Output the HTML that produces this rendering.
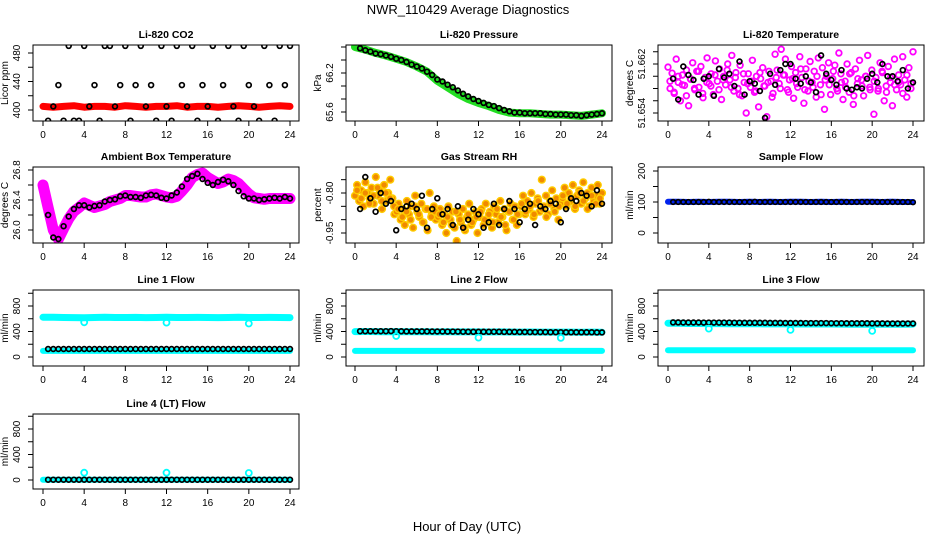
<!DOCTYPE html>
<html><head><meta charset="utf-8"><style>
html,body{margin:0;padding:0;background:#fff;width:936px;height:540px;overflow:hidden}
svg{display:block;font-family:"Liberation Sans",sans-serif}
</style></head><body>
<svg id="chart" width="936" height="540" viewBox="0 0 936 540" xmlns="http://www.w3.org/2000/svg">
<text x="468" y="14" text-anchor="middle" font-size="13">NWR_110429  Average Diagnostics</text>
<text x="467" y="531" text-anchor="middle" font-size="13">Hour of Day (UTC)</text>
</svg>
<script>
// ---- data ----
const xTicks = [0,4,8,12,16,20,24];
const co2Band = [405,404,405,406,404,405,405,404,406,405,404,405,405,406,404,405,405,404,405,406,405,404,405,406,405];
const co2Black = [385,405,435,385,490,385,385,490,405,435,385,490,490,405,435,490,385,435,490,405,435,385,490,405,385,490,435,405,490,385,435,405,490,385,435,490,405,385,490,435,405,385,490,435,385,490,435,490];
const pressBand = [66.60,66.56,66.51,66.47,66.42,66.37,66.30,66.22,66.08,65.98,65.88,65.80,65.74,65.69,65.63,65.59,65.58,65.58,65.57,65.56,65.56,65.55,65.54,65.56,65.58];
const pressBlack = [66.58,66.55,66.53,66.50,66.49,66.47,66.45,66.42,66.40,66.37,66.33,66.30,66.27,66.22,66.17,66.10,66.07,66.02,65.98,65.93,65.88,65.84,65.80,65.77,65.74,65.71,65.69,65.66,65.63,65.61,65.59,65.59,65.58,65.58,65.58,65.58,65.57,65.57,65.56,65.56,65.56,65.55,65.55,65.54,65.55,65.56,65.57,65.58];
const tempCloudMilli = [9.5,6.0,8.5,5.2,10.8,7.0,4.0,8.2,6.5,9.0,3.2,7.5,10.2,5.8,8.8,6.2,9.6,4.5,7.8,11.0,6.8,8.4,5.0,10.5,7.2,9.2,4.2,8.0,6.6,10.0,7.4,11.4,5.6,8.6,6.0,9.8,4.8,7.0,2.0,8.4,6.2,10.6,5.4,8.0,3.0,7.6,9.4,6.4,1.4,8.8,7.2,5.2,11.6,9.0,6.8,12.4,8.2,10.8,5.8,7.4,9.6,4.4,8.6,6.2,11.2,7.8,3.6,9.2,5.6,10.4,7.0,8.8,4.6,11.0,6.6,9.4,2.6,8.0,10.2,5.0,7.6,9.8,6.0,11.8,8.4,4.2,7.2,10.0,5.4,8.6,3.4,9.2,6.8,10.6,7.4,4.8,8.0,11.4,6.2,9.0,1.8,7.8,5.6,10.2,8.8,4.0,6.4,9.6,7.0,3.2,10.8,5.8,8.2,6.6,11.2,7.4,4.6,9.4,6.0,12.0];
const tempCloud2Milli = [7.2,5.4,8.0,6.6,4.8,7.6,6.0,8.8,5.2,7.0,6.4,8.2,5.8,7.4,9.0,6.2,7.8,5.0,8.4,6.8,7.2,5.6,8.6,6.4,7.0,4.6,7.8,6.0,8.2,5.4,7.6,6.8,9.2,5.8,7.2,6.2,8.0,5.0,7.4,6.6,8.8,5.6,7.0,6.2,8.4,4.8,7.6,6.4,8.0,5.8,7.2,6.0,8.6,5.4,7.8,6.6,7.0,5.2,8.2,6.8];
const tempBlackMilli = [7.6,4.2,9.6,8.2,7.4,5.0,7.6,8.0,4.8,9.2,7.8,8.4,6.4,10.4,5.0,7.2,6.8,5.6,1.2,8.4,6.6,9.0,10.0,10.0,7.6,6.8,8.0,7.0,5.4,11.4,8.4,7.4,6.6,9.0,6.0,5.8,6.2,6.0,7.6,8.4,7.0,10.0,8.0,8.0,7.2,9.0,6.0,7.0];
const ambBand = [26.60,26.30,26.00,25.88,26.02,26.15,26.25,26.30,26.36,26.33,26.30,26.32,26.34,26.38,26.40,26.42,26.46,26.46,26.45,26.44,26.44,26.47,26.48,26.46,26.44,26.43,26.45,26.52,26.60,26.70,26.74,26.76,26.70,26.66,26.62,26.64,26.68,26.66,26.62,26.55,26.48,26.43,26.42,26.41,26.42,26.42,26.42,26.42,26.42];
const ambBlack = [26.20,25.90,25.88,26.05,26.18,26.28,26.33,26.33,26.30,26.32,26.33,26.38,26.40,26.41,26.45,26.46,26.44,26.44,26.43,26.46,26.47,26.46,26.43,26.42,26.46,26.50,26.58,26.68,26.72,26.75,26.68,26.63,26.60,26.64,26.67,26.65,26.60,26.52,26.45,26.42,26.42,26.40,26.41,26.42,26.43,26.42,26.44,26.42];
const rhCloud = [-0.81,-0.77,-0.83,-0.79,-0.85,-0.76,-0.80,-0.82,-0.78,-0.84,-0.74,-0.81,-0.79,-0.86,-0.77,-0.83,-0.80,-0.75,-0.82,-0.88,
-0.87,-0.84,-0.90,-0.86,-0.92,-0.83,-0.88,-0.85,-0.93,-0.81,-0.87,-0.89,-0.84,-0.91,-0.86,-0.94,-0.80,-0.88,-0.85,-0.90,
-0.89,-0.86,-0.92,-0.88,-0.95,-0.85,-0.90,-0.87,-0.93,-0.98,-0.88,-0.91,-0.86,-0.94,-0.89,-0.84,-0.92,-0.90,-0.87,-0.95,
-0.89,-0.86,-0.92,-0.84,-0.90,-0.87,-0.93,-0.85,-0.88,-0.91,-0.83,-0.89,-0.86,-0.94,-0.87,-0.84,-0.90,-0.85,-0.92,-0.88,
-0.85,-0.81,-0.88,-0.83,-0.86,-0.80,-0.89,-0.84,-0.82,-0.87,-0.75,-0.85,-0.81,-0.88,-0.83,-0.79,-0.86,-0.82,-0.90,-0.84,
-0.82,-0.78,-0.85,-0.80,-0.83,-0.77,-0.86,-0.81,-0.79,-0.84,-0.76,-0.82,-0.80,-0.85,-0.78,-0.83,-0.81,-0.77,-0.84,-0.80];
const rhCloud2 = [-0.79,-0.82,-0.80,-0.84,-0.81,-0.78,-0.83,-0.80,-0.82,-0.85,-0.86,-0.89,-0.87,-0.90,-0.85,-0.88,-0.91,-0.86,-0.89,-0.87,-0.88,-0.91,-0.89,-0.92,-0.87,-0.90,-0.93,-0.88,-0.91,-0.89,-0.87,-0.90,-0.88,-0.91,-0.86,-0.89,-0.92,-0.87,-0.90,-0.88,-0.84,-0.87,-0.85,-0.88,-0.83,-0.86,-0.89,-0.84,-0.87,-0.85,-0.81,-0.84,-0.82,-0.85,-0.80,-0.83,-0.86,-0.81,-0.84,-0.82];
const rhBlack = [-0.86,-0.74,-0.82,-0.87,-0.80,-0.84,-0.83,-0.94,-0.86,-0.85,-0.84,-0.86,-0.81,-0.93,-0.86,-0.82,-0.88,-0.86,-0.92,-0.85,-0.93,-0.90,-0.86,-0.88,-0.93,-0.91,-0.84,-0.92,-0.86,-0.83,-0.86,-0.91,-0.86,-0.84,-0.92,-0.85,-0.86,-0.83,-0.84,-0.91,-0.86,-0.82,-0.83,-0.80,-0.81,-0.85,-0.79,-0.84];
const sampleBand = [101,101,100,101,100,101,101,100,101,100,101,100,101,101,100,101,100,101,100,101,101,100,101,100,100];
const sampleBlack = [100,100,100,100,100,100,100,101,100,100,100,100,100,100,100,100,101,100,100,100,100,100,100,100,100,100,100,100,100,100,100,100,100,100,100,100,100,100,100,100,100,100,100,100,100,100,100,99];
const line1High = [625,622,620,618,615,620,622,619,620,621,618,620,622,620,619,621,620,618,620,622,619,620,621,620,618];
const line1Low = [95,96,95,95,96,95,95,96,95,95,96,95,95,96,95,95,96,95,95,96,95,95,96,95,95];
const line1Black = [125,126,125,125,126,125,125,125,126,125,125,125,126,125,125,125,126,125,125,125,126,125,125,125,126,125,125,125,126,125,125,125,126,125,125,125,126,125,125,125,126,125,125,125,126,125,125,125];
const line1Out = [545,540,525];
const line2High = [398,400,398,396,398,396,395,396,394,395,394,393,394,392,393,392,391,392,391,390,391,390,389,390,389];
const line2Low = [95,95,95,95,95,95,95,95,95,95,95,95,95,95,95,95,95,95,95,95,95,95,95,95,95];
const line2Black = [405,405,405,405,405,405,406,405,403,402,402,402,401,401,400,400,400,399,398,398,397,396,396,395,395,396,397,396,394,393,393,392,392,391,391,390,390,389,389,389,388,388,388,387,387,387,386,386];
const line2Out = [330,305,300];
const line3High = [530,528,526,525,524,524,523,522,522,521,520,520,519,518,518,517,517,516,515,515,515,514,514,515,516];
const line3Low = [105,105,105,105,105,105,105,105,105,105,105,105,105,105,105,105,105,105,105,105,105,105,105,105,105];
const line3Black = [542,542,541,541,541,541,540,540,540,539,539,539,538,538,537,537,537,536,536,535,535,535,534,534,533,533,532,532,532,531,531,530,530,530,529,529,528,528,528,527,527,527,526,526,526,526,525,525];
const line3Out = [445,425,410];
const line4Band = [3,3,3,3,3,3,3,3,3,3,3,3,3,3,3,3,3,3,3,3,3,3,3,3,3];
const line4Black = [5,5,5,5,5,5,5,5,5,5,5,5,5,5,5,5,5,5,5,5,5,5,5,5,5,5,5,5,5,5,5,5,5,5,5,5,5,5,5,5,5,5,5,5,5,5,5,5];
const line4Out = [115,115,110];
const outTimes = [4,12,20];

// ---- layout ----
const NS = "http://www.w3.org/2000/svg";
const svg = document.getElementById('chart');
const cols = [{x0:33,x1:299,a:43,b:290},{x0:346,x1:612,a:355,b:602},{x0:658,x1:924,a:668,b:913}];
const rows = [{y0:45,y1:121},{y0:167,y1:243},{y0:290,y1:366},{y0:414,y1:489}];
function mk(tag, attrs, parent){const e=document.createElementNS(NS,tag);for(const k in attrs)e.setAttribute(k,attrs[k]);(parent||svg).appendChild(e);return e;}
function hourly(n){const t=[];for(let i=0;i<n;i++)t.push(24*i/(n-1));return t;}
function offsetTimes(n){const t=[];for(let i=0;i<n;i++)t.push(24*(i+0.5)/n);return t;}
function halfHours(n){const t=[];for(let i=0;i<n;i++)t.push(0.5*(i+1));return t;}

function panel(p){
  const c=cols[p.col], r=rows[p.row];
  const g=mk('g',{});
  
  
  const X=v=>c.a+(v/24)*(c.b-c.a);
  const Y=v=>p.ya+(v-p.yv0)/(p.yv1-p.yv0)*(p.yb-p.ya);
  const clip='clip-'+p.name;
  const cp=mk('clipPath',{id:clip},g); mk('rect',{x:c.x0,y:r.y0,width:c.x1-c.x0,height:r.y1-r.y0},cp);
  const t=mk('text',{x:(c.x0+c.x1)/2,y:r.y0-7,'text-anchor':'middle','font-size':10.5,'font-weight':'bold'},g);
  t.textContent=p.title;
  
  
  const plot=mk('g',{'clip-path':'url(#'+clip+')'},g);
  p.draw(plot,X,Y);
  mk('rect',{x:c.x0,y:r.y0,width:c.x1-c.x0,height:r.y1-r.y0,fill:'none',stroke:'#000','stroke-width':1},g);
  mk('line',{x1:X(0),x2:X(24),y1:r.y1,y2:r.y1,stroke:'#000'},g);
  xTicks.forEach(v=>{
    mk('line',{x1:X(v),x2:X(v),y1:r.y1,y2:r.y1+5,stroke:'#000'},g);
    const l=mk('text',{x:X(v),y:r.y1+17,'text-anchor':'middle','font-size':10},g); l.textContent=v;
    
    
  });
  p.yticks.forEach(v=>{mk('line',{x1:c.x0-5,x2:c.x0,y1:Y(v),y2:Y(v),stroke:'#000'},g);});
  p.ylabels.forEach((v,i)=>{
    const yy=Y(v);
    const l=mk('text',{x:c.x0-13,y:yy,'text-anchor':'middle','font-size':10,transform:'rotate(-90 '+(c.x0-13)+' '+yy+')'},g);
    l.textContent=p.ylabelText?p.ylabelText[i]:v;
    
    
  });
  const cy=(r.y0+r.y1)/2;
  const yl=mk('text',{x:c.x0-25,y:cy,'text-anchor':'middle','font-size':10,transform:'rotate(-90 '+(c.x0-25)+' '+cy+')'},g);
  yl.textContent=p.ylab;
  
  
}
function band(g,X,Y,vals,color,w,name){
  const ts=hourly(vals.length);
  const pts=vals.map((v,i)=>X(ts[i]).toFixed(1)+','+Y(v).toFixed(1)).join(' ');
  const pl=mk('polyline',{points:pts,fill:'none',stroke:color,'stroke-width':w,'stroke-linejoin':'round','stroke-linecap':'round'},g);
  
  
}
function circles(g,X,Y,ts,vals,color,r,fill,sw,name){
  vals.forEach((v,i)=>{
    const c=mk('circle',{cx:X(ts[i]).toFixed(1),cy:Y(v).toFixed(1),r:r,fill:fill||'none',stroke:color,'stroke-width':sw||1.6},g);
    
    
  });
}
const tB=halfHours(48);
const flowTicks=[0,200,400,600,800,1000], flowLabels=[0,400,800];
function flowPanel(name,title,col,row,yZero,draw){
  panel({name,title,col,row,ylab:'ml/min',yv0:0,yv1:400,ya:yZero,yb:yZero-25.5,yticks:flowTicks,ylabels:flowLabels,draw});
}

panel({name:'co2-panel',title:'Li-820 CO2',col:0,row:0,ylab:'Licor ppm',yv0:400,yv1:480,ya:110,yb:53,yticks:[400,420,440,460,480],ylabels:[400,440,480],
  draw:(g,X,Y)=>{band(g,X,Y,co2Band,'#ff0000',7,'co2-band');circles(g,X,Y,tB,co2Black,'#000',2.4,null,1.7,'co2-point');}});
panel({name:'pressure-panel',title:'Li-820 Pressure',col:1,row:0,ylab:'kPa',yv0:65.6,yv1:66.2,ya:112,yb:73,yticks:[65.6,65.8,66.0,66.2,66.4,66.6],ylabels:[65.6,66.2],
  draw:(g,X,Y)=>{band(g,X,Y,pressBand,'#22dd22',8,'pressure-band');circles(g,X,Y,tB,pressBlack,'#000',2.4,null,1.7,'pressure-point');}});
panel({name:'temperature-panel',title:'Li-820 Temperature',col:2,row:0,ylab:'degrees C',yv0:2,yv1:10,ya:113,yb:64,yticks:[2,4,6,8,10,12],ylabels:[2,10],ylabelText:['51.654','51.662'],
  draw:(g,X,Y)=>{circles(g,X,Y,hourly(tempCloudMilli.length),tempCloudMilli,'#ff00ff',2.8,null,1.8,'temperature-cloud-point');circles(g,X,Y,offsetTimes(tempCloud2Milli.length),tempCloud2Milli,'#ff00ff',2.8,null,1.8,'temperature-cloud-point');circles(g,X,Y,tB,tempBlackMilli,'#000',2.4,null,1.7,'temperature-point');}});
panel({name:'ambient-panel',title:'Ambient Box Temperature',col:0,row:1,ylab:'degrees C',yv0:26.0,yv1:26.8,ya:230,yb:170,yticks:[26.0,26.2,26.4,26.6,26.8],ylabels:[26.0,26.4,26.8],ylabelText:['26.0','26.4','26.8'],
  draw:(g,X,Y)=>{band(g,X,Y,ambBand,'#ff00ff',11,'ambient-band');circles(g,X,Y,tB,ambBlack,'#000',2.4,null,1.7,'ambient-point');}});
panel({name:'rh-panel',title:'Gas Stream RH',col:1,row:1,ylab:'percent',yv0:-0.80,yv1:-0.95,ya:193,yb:233,yticks:[-0.75,-0.80,-0.85,-0.90,-0.95],ylabels:[-0.80,-0.95],ylabelText:['-0.80','-0.95'],
  draw:(g,X,Y)=>{circles(g,X,Y,hourly(rhCloud.length),rhCloud,'#ffcc00',3.4,'#f08a00',1.4,'rh-cloud-point');circles(g,X,Y,offsetTimes(rhCloud2.length),rhCloud2,'#ffcc00',3.4,'#f08a00',1.4,'rh-cloud-point');circles(g,X,Y,tB,rhBlack,'#000',2.4,null,1.7,'rh-point');}});
panel({name:'sample-flow-panel',title:'Sample Flow',col:2,row:1,ylab:'ml/min',yv0:0,yv1:200,ya:233,yb:171,yticks:[0,50,100,150,200],ylabels:[0,100,200],
  draw:(g,X,Y)=>{band(g,X,Y,sampleBand,'#0022ee',6,'sample-band');circles(g,X,Y,tB,sampleBlack,'#000',2.3,null,1.6,'sample-point');}});
flowPanel('line1-panel','Line 1 Flow',0,2,357,(g,X,Y)=>{band(g,X,Y,line1High,'#00ffff',7,'line1-high-band');band(g,X,Y,line1Low,'#00ffff',6,'line1-low-band');circles(g,X,Y,tB,line1Black,'#000',2.4,null,1.7,'line1-point');circles(g,X,Y,outTimes,line1Out,'#00ffff',3,null,1.8,'line1-outlier');});
flowPanel('line2-panel','Line 2 Flow',1,2,357,(g,X,Y)=>{band(g,X,Y,line2High,'#00ffff',7,'line2-high-band');band(g,X,Y,line2Low,'#00ffff',6,'line2-low-band');circles(g,X,Y,tB,line2Black,'#000',2.4,null,1.7,'line2-point');circles(g,X,Y,outTimes,line2Out,'#00ffff',3,null,1.8,'line2-outlier');});
flowPanel('line3-panel','Line 3 Flow',2,2,357,(g,X,Y)=>{band(g,X,Y,line3High,'#00ffff',7,'line3-high-band');band(g,X,Y,line3Low,'#00ffff',6,'line3-low-band');circles(g,X,Y,tB,line3Black,'#000',2.4,null,1.7,'line3-point');circles(g,X,Y,outTimes,line3Out,'#00ffff',3,null,1.8,'line3-outlier');});
flowPanel('line4-panel','Line 4 (LT) Flow',0,3,480,(g,X,Y)=>{band(g,X,Y,line4Band,'#00ffff',6,'line4-band');circles(g,X,Y,tB,line4Black,'#000',2.4,null,1.7,'line4-point');circles(g,X,Y,outTimes,line4Out,'#00ffff',3,null,1.8,'line4-outlier');});
</script>
</body></html>
